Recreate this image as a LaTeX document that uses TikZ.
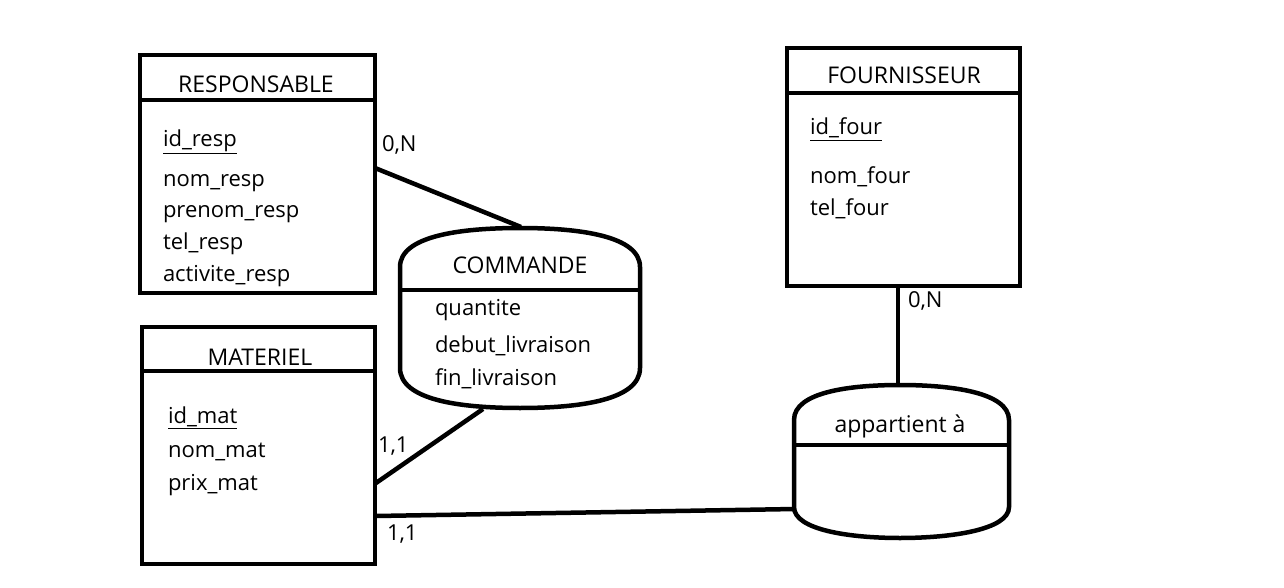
\documentclass[tikz,border=0pt]{standalone}
\usepackage{fontspec}
\setmainfont{Open Sans}
\begin{document}
\begin{tikzpicture}[x=1pt,y=-1pt,
  every node/.style={font=\fontsize{22}{25}\selectfont, inner sep=0pt, outer sep=0pt},
  entity/.style={draw, line width=4.5pt, rectangle},
  conn/.style={line width=4.5pt},
  sep/.style={line width=4.5pt},
  ttl/.style={anchor=base, font=\fontsize{23}{26}\selectfont},
  attr/.style={anchor=base west},
  card/.style={anchor=base west}]
\useasboundingbox (0,0) rectangle (1284,588);
\fill[white] (0,0) rectangle (1284,588);

% RESPONSABLE
\node[entity, minimum width=235pt, minimum height=238pt] (resp) at (257.5,174) {};
\draw[sep] (140,100) -- (375,100);
\node[ttl] (respT) at (256,93) {RESPONSABLE};
\node[attr] (r1) at (163,147) {\underline{id\_resp}};
\node[attr] (r2) at (163,186) {nom\_resp};
\node[attr] (r3) at (163,218) {prenom\_resp};
\node[attr] (r4) at (163,249) {tel\_resp};
\node[attr] (r5) at (163,281) {activite\_resp};

% MATERIEL
\node[entity, minimum width=233pt, minimum height=237pt] (mat) at (258.5,445.5) {};
\draw[sep] (142,371) -- (375,371);
\node[ttl] (matT) at (260,365) {MATERIEL};
\node[attr] (m1) at (168,423) {\underline{id\_mat}};
\node[attr] (m2) at (168,457) {nom\_mat};
\node[attr] (m3) at (168,490) {prix\_mat};

% FOURNISSEUR
\node[entity, minimum width=233pt, minimum height=238pt] (four) at (903.5,167) {};
\draw[sep] (787,93) -- (1020,93);
\node[ttl] (fourT) at (904,84) {FOURNISSEUR};
\node[attr] (f1) at (810,135) {\underline{id\_four}};
\node[attr] (f2) at (810,183) {nom\_four};
\node[attr] (f3) at (810,215) {tel\_four};

% COMMANDE association
\draw[line width=4.5pt] (400,267) .. controls (400,236) and (460,228) .. (520,228)
  .. controls (580,228) and (640,236) .. (640,267) -- (640,368)
  .. controls (640,400) and (580,408) .. (520,408)
  .. controls (460,408) and (400,400) .. (400,368) -- cycle;
\draw[sep] (400,290) -- (640,290);
\node[ttl] (cmdT) at (520,273) {COMMANDE};
\node[attr] (c1) at (435,315) {quantite};
\node[attr] (c2) at (435,352) {debut\_livraison};
\node[attr] (c3) at (435,385) {fin\_livraison};

% appartient association
\draw[line width=4.5pt] (794,420) .. controls (794,392) and (850,385) .. (900,385)
  .. controls (950,385) and (1009,392) .. (1009,420) -- (1009,507)
  .. controls (1009,530) and (950,538) .. (900,538)
  .. controls (850,538) and (794,530) .. (794,507) -- cycle;
\draw[sep] (794,445) -- (1009,445);
\node[ttl] (appT) at (900,432) {appartient à};

% connector endpoints
\coordinate (respE) at (375,168);
\coordinate (cmdTop) at (521,227);
\coordinate (cmdBot) at (483,409);
\coordinate (matE1) at (376,483);
\coordinate (matE2) at (376,516);
\coordinate (appW) at (795,509);
\coordinate (fourS) at (898,286);
\coordinate (appN) at (898,385);

\draw[conn] (respE) -- (cmdTop);
\draw[conn] (cmdBot) -- (matE1);
\draw[conn] (matE2) -- (appW);
\draw[conn] (fourS) -- (appN);

% cardinalities
\node[card] (k1) at (382,152) {0,N};
\node[card] (k2) at (378,452) {1,1};
\node[card] (k3) at (387,540) {1,1};
\node[card] (k4) at (908,307) {0,N};
\end{tikzpicture}
\end{document}
